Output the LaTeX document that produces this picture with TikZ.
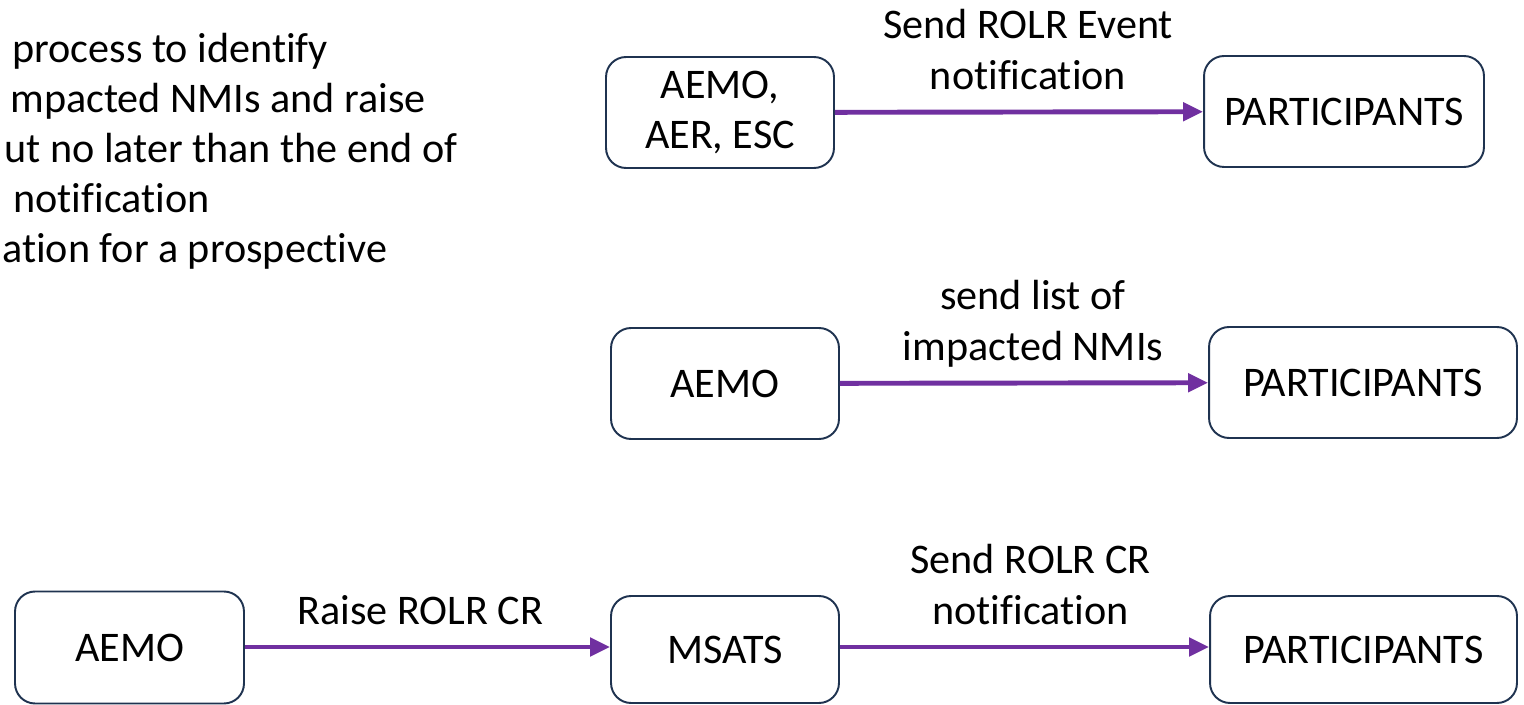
\documentclass[tikz,border=0pt]{standalone}
\usepackage{fontspec}
\setmainfont{Carlito}[Ligatures={NoCommon,NoRare}]
\usetikzlibrary{arrows.meta}

\definecolor{boxline}{HTML}{1F3350}
\definecolor{flowpurple}{HTML}{7030A0}

\begin{document}
\begin{tikzpicture}[x=0.02cm, y=-0.02cm,
    every node/.style={font=\fontsize{24}{29}\selectfont},
    party/.style={draw=boxline, line width=1.1pt, rounded corners=0.4cm,
        align=center, inner sep=0pt},
    flow/.style={draw=flowpurple, line width=2.8pt,
        -{Triangle[length=0.4cm, width=0.36cm]}},
    flowlabel/.style={align=center, above=0.4cm, inner sep=0pt, text depth=0pt},
    sideline/.style={anchor=base west, inner sep=0pt}]
    \useasboundingbox (0,0) rectangle (1524,705);
    % cut-off note on the left
    \node [sideline] (note1) at (12,63) {process to identify};
    \node [sideline] (note2) at (10,113) {mpacted NMIs and raise};
    \node [sideline] (note3) at (4,163) {ut no later than the end of};
    \node [sideline] (note4) at (13,213) {notification};
    \node [sideline] (note5) at (2,263) {ation for a prospective};
    % event notification
    \node [party, minimum width=4.56cm, minimum height=2.22cm] (ader) at (720,112.5) {AEMO,\\AER, ESC};
    \node [party, minimum width=5.6cm, minimum height=2.22cm] (part1) at (1344,111.5) {PARTICIPANTS};
    \draw [flow] (ader) -- (part1)
        node [flowlabel, midway, xshift=0.18cm] {Send ROLR Event\\notification};
    % impacted NMIs
    \node [party, minimum width=4.56cm, minimum height=2.22cm] (aemo1) at (725,383.5) {AEMO};
    \node [party, minimum width=6.16cm, minimum height=2.22cm] (part2) at (1363,382.5) {PARTICIPANTS};
    \draw [flow] (aemo1) -- (part2)
        node [flowlabel, midway, xshift=0.18cm] {send list of\\impacted NMIs};
    % change request
    \node [party, minimum width=4.58cm, minimum height=2.24cm] (aemo2) at (129.5,647.5) {AEMO};
    \node [party, minimum width=4.56cm, minimum height=2.14cm] (msats) at (725,649.5) {MSATS};
    \node [party, minimum width=6.14cm, minimum height=2.14cm] (part3) at (1363.5,649.5) {PARTICIPANTS};
    \draw [flow] (aemo2.east |- 0,647) -- (msats.west |- 0,647)
        node [flowlabel, midway, xshift=-0.14cm] {Raise ROLR CR};
    \draw [flow] (msats.east |- 0,647) -- (part3.west |- 0,647)
        node [flowlabel, midway, xshift=0.12cm] {Send ROLR CR\\notification};
\end{tikzpicture}
\end{document}
